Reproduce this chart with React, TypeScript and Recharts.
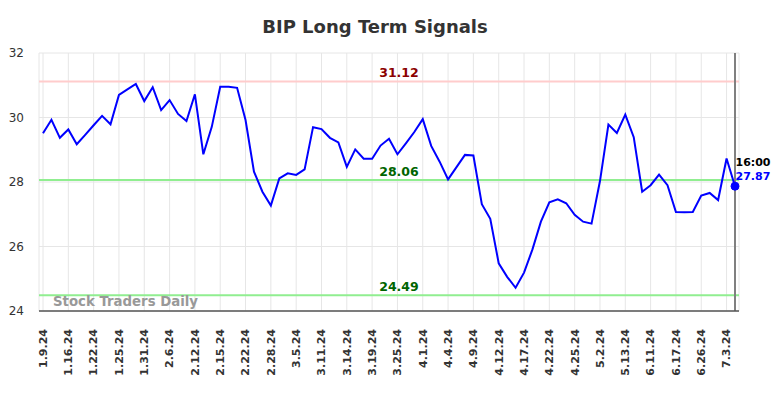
import React from 'react';
import { LineChart, Line, XAxis, YAxis, CartesianGrid, ReferenceLine } from 'recharts';

const values = [
  29.51, 29.93, 29.37, 29.63, 29.17, 29.46, 29.76, 30.05, 29.79, 30.70,
  30.87, 31.04, 30.51, 30.94, 30.23, 30.54, 30.11, 29.89, 30.72, 28.86,
  29.71, 30.95, 30.95, 30.92, 29.92, 28.32, 27.70, 27.27, 28.11, 28.27,
  28.22, 28.39, 29.70, 29.64, 29.37, 29.23, 28.47, 29.01, 28.72, 28.72,
  29.13, 29.34, 28.86, 29.20, 29.55, 29.95, 29.12, 28.63, 28.08, 28.46,
  28.84, 28.82, 27.31, 26.86, 25.48, 25.06, 24.72, 25.19, 25.91, 26.77,
  27.37, 27.46, 27.34, 26.98, 26.77, 26.71, 28.03, 29.78, 29.52, 30.09,
  29.39, 27.70, 27.90, 28.23, 27.90, 27.07, 27.06, 27.07, 27.58, 27.66,
  27.44, 28.73, 27.87,
];

const tickLabels = [
  '1.9.24', '1.16.24', '1.22.24', '1.25.24', '1.31.24', '2.6.24', '2.12.24',
  '2.15.24', '2.22.24', '2.28.24', '3.5.24', '3.11.24', '3.14.24', '3.19.24',
  '3.25.24', '4.1.24', '4.4.24', '4.9.24', '4.12.24', '4.17.24', '4.22.24',
  '4.25.24', '5.2.24', '5.13.24', '6.11.24', '6.17.24', '6.26.24', '7.3.24',
];

const tickStep = 3;
const yTicks = [24, 26, 28, 30, 32];
const resistance = 31.12;
const midSignal = 28.06;
const support = 24.49;
const lastTime = '16:00';

const data = values.map((v, i) => ({ i, v }));
const xTicks = tickLabels.map((_, k) => k * tickStep);
const lastIndex = values.length - 1;

const FONT = 'DejaVu Sans, sans-serif';

const XTick = (props: any) => {
  const { x, y, payload } = props;
  const label = tickLabels[Math.round(payload.value / tickStep)] ?? '';
  return (
    <g transform={`translate(${x},${y})`}>
      <text
        transform="rotate(-90)"
        textAnchor="end"
        dy="0.35em"
        fontSize={11}
        fontWeight="bold"
        fill="#333"
        fontFamily={FONT}
      >
        {label}
      </text>
    </g>
  );
};

const refLabel = (text: string, color: string) => (props: any) => {
  const vb = props.viewBox || {};
  const cx = vb.x + vb.width / 2 + 10;
  return (
    <text
      x={cx}
      y={vb.y - 4}
      textAnchor="middle"
      fontSize={12.5}
      fontWeight="bold"
      fill={color}
      fontFamily={FONT}
    >
      {text}
    </text>
  );
};

const renderDot = (props: any) => {
  const { cx, cy, index } = props;
  if (index !== lastIndex) return <g key={`d${index}`} />;
  return (
    <g key={`d${index}`}>
      <circle cx={cx} cy={cy} r={4} fill="#0000ff" stroke="#0000ff" />
      <text x={cx + 0.5} y={cy - 20} fontSize={11} fontWeight="bold" fill="#000" fontFamily={FONT}>
        {lastTime}
      </text>
      <text x={cx + 0.5} y={cy - 6} fontSize={11} fontWeight="bold" fill="#0000ff" fontFamily={FONT}>
        {values[lastIndex].toFixed(2)}
      </text>
    </g>
  );
};

export default function App() {
  return (
    <div
      style={{
        position: 'absolute',
        left: 0,
        top: 0,
        width: 784,
        height: 398,
        background: '#fff',
        fontFamily: FONT,
      }}
    >
      <LineChart
        width={784}
        height={398}
        data={data}
        margin={{ top: 53, right: 45, bottom: 7, left: 8 }}
      >
        <CartesianGrid stroke="#e6e6e6" strokeWidth={1} />
        <XAxis
          dataKey="i"
          type="number"
          domain={[0, lastIndex]}
          ticks={xTicks}
          interval={0}
          padding={{ left: 4, right: 4 }}
          height={80}
          tickLine={false}
          tickSize={6}
          tickMargin={12}
          axisLine={{ stroke: '#555', strokeWidth: 1.5 }}
          tick={<XTick />}
        />
        <YAxis
          domain={[24, 32]}
          ticks={yTicks}
          width={31}
          axisLine={false}
          tickLine={false}
          tickSize={6}
          tickMargin={9}
          tick={{ fontSize: 12, fill: '#333', fontFamily: FONT }}
        />
        <ReferenceLine
          y={resistance}
          stroke="#ffcccc"
          strokeWidth={2}
          label={refLabel(resistance.toFixed(2), '#8b0000')}
        />
        <ReferenceLine
          y={midSignal}
          stroke="#90ee90"
          strokeWidth={2}
          label={refLabel(midSignal.toFixed(2), '#006400')}
        />
        <ReferenceLine
          y={support}
          stroke="#90ee90"
          strokeWidth={2}
          label={refLabel(support.toFixed(2), '#006400')}
        />
        <ReferenceLine x={lastIndex} stroke="#808080" strokeWidth={2} />
        <Line
          type="linear"
          dataKey="v"
          stroke="#0000ff"
          strokeWidth={2}
          dot={renderDot}
          activeDot={false}
          isAnimationActive={false}
        />
      </LineChart>
      <div
        style={{
          position: 'absolute',
          left: 0,
          top: 16,
          width: 750,
          textAlign: 'center',
          fontSize: 18,
          lineHeight: '22px',
          fontWeight: 'bold',
          color: '#333',
        }}
      >
        BIP Long Term Signals
      </div>
      <div
        style={{
          position: 'absolute',
          left: 53,
          top: 294,
          fontSize: 13.3,
          lineHeight: '16px',
          fontWeight: 'bold',
          color: '#999',
        }}
      >
        Stock Traders Daily
      </div>
    </div>
  );
}
